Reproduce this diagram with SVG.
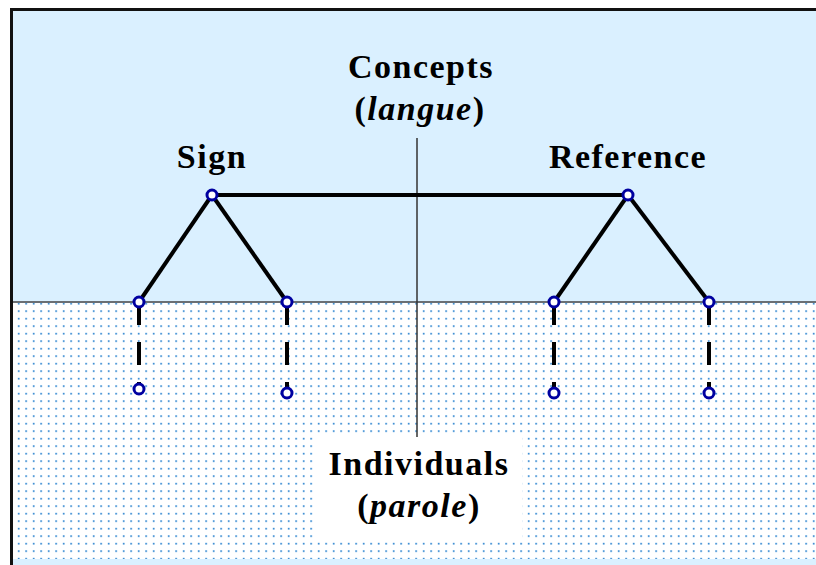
<svg xmlns="http://www.w3.org/2000/svg" width="816" height="565" viewBox="0 0 816 565">
<defs>
<pattern id="dots" x="0" y="0" width="7.5" height="7.5" patternUnits="userSpaceOnUse">
<rect x="2.8" y="2.8" width="1.7" height="1.7" fill="#2f86d0"/>
</pattern>
<style>
.lbl{font-family:"Liberation Serif","Times New Roman",serif;font-weight:bold;font-size:34px;letter-spacing:1.5px;fill:#000;text-anchor:middle}
.it{font-style:italic}
.edge{stroke:#000;stroke-width:4;fill:none;stroke-linecap:butt}
.dash{stroke:#000;stroke-width:4;fill:none;stroke-dasharray:23 17}
.node{fill:#fff;stroke:#0000a0;stroke-width:3}
</style>
</defs>
<rect x="0" y="0" width="816" height="565" fill="#fff"/>
<rect x="11.5" y="9.5" width="820" height="570" fill="#daf0ff" stroke="#111" stroke-width="3"/>
<rect x="13" y="303" width="803" height="256" fill="#fff"/>
<rect x="13" y="303" width="803" height="256" fill="url(#dots)"/>
<rect x="315" y="437" width="207" height="101" fill="#fff"/>
<line x1="13" y1="302" x2="816" y2="302" stroke="#444" stroke-width="1.5"/>
<line x1="417" y1="138" x2="417" y2="437" stroke="#333" stroke-width="1.5"/>
<g id="connectors">
<line class="edge" x1="212" y1="195" x2="628" y2="195"/>
<line class="edge" x1="212" y1="195" x2="139" y2="302"/>
<line class="edge" x1="212" y1="195" x2="287" y2="302"/>
<line class="edge" x1="628" y1="195" x2="554" y2="302"/>
<line class="edge" x1="628" y1="195" x2="709" y2="302"/>
<line class="dash" x1="139" y1="302" x2="139" y2="389"/>
<line class="dash" x1="287" y1="302" x2="287" y2="393"/>
<line class="dash" x1="554" y1="302" x2="554" y2="393"/>
<line class="dash" x1="709" y1="302" x2="709" y2="393"/>
</g>
<g id="sign"><circle class="node" cx="212" cy="195" r="5"/><text class="lbl" x="212" y="168">Sign</text></g>
<g id="reference"><circle class="node" cx="628" cy="195" r="5"/><text class="lbl" x="628" y="168">Reference</text></g>
<g id="sign-a"><circle class="node" cx="139" cy="302" r="5"/></g>
<g id="sign-b"><circle class="node" cx="287" cy="302" r="5"/></g>
<g id="ref-a"><circle class="node" cx="554" cy="302" r="5"/></g>
<g id="ref-b"><circle class="node" cx="709" cy="302" r="5"/></g>
<g id="ind-1"><circle class="node" cx="139" cy="389" r="5"/></g>
<g id="ind-2"><circle class="node" cx="287" cy="393" r="5"/></g>
<g id="ind-3"><circle class="node" cx="554" cy="393" r="5"/></g>
<g id="ind-4"><circle class="node" cx="709" cy="393" r="5"/></g>
<g id="concepts">
<text class="lbl" x="421" y="78">Concepts</text>
<text class="lbl" x="420" y="120">(<tspan class="it">langue</tspan>)</text>
</g>
<g id="individuals">
<text class="lbl" x="419" y="475">Individuals</text>
<text class="lbl" x="419" y="517">(<tspan class="it">parole</tspan>)</text>
</g>
</svg>
